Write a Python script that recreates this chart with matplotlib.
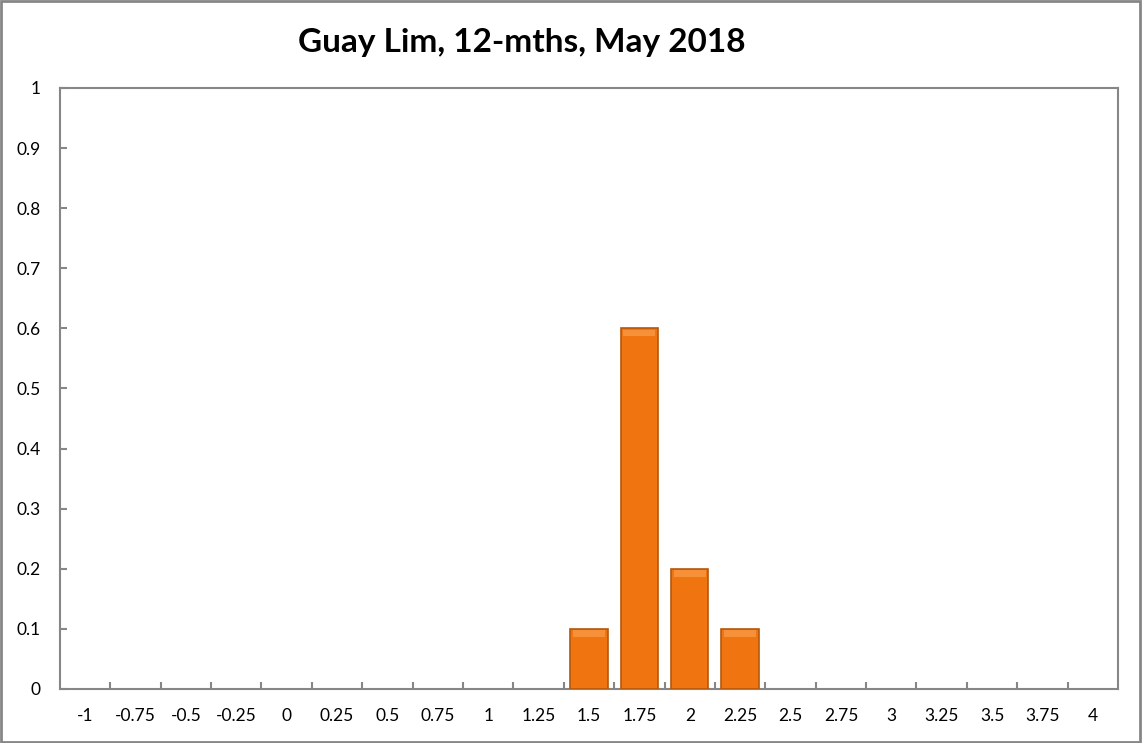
import matplotlib
matplotlib.use("Agg")
import matplotlib.pyplot as plt
from matplotlib.patches import Rectangle

# Distribution data, one value per category bin
categories = ["-1", "-0.75", "-0.5", "-0.25", "0", "0.25", "0.5", "0.75", "1", "1.25",
              "1.5", "1.75", "2", "2.25", "2.5", "2.75", "3", "3.25", "3.5", "3.75", "4"]
values = [0, 0, 0, 0, 0, 0, 0, 0, 0, 0,
          0.1, 0.6, 0.2, 0.1, 0, 0, 0, 0, 0, 0, 0]
yticks = [0, 0.1, 0.2, 0.3, 0.4, 0.5, 0.6, 0.7, 0.8, 0.9, 1]
title = "Guay Lim, 12-mths, May 2018"

plt.rcParams['font.family'] = ['Lato', 'DejaVu Sans']

gray = "#868686"
fig = plt.figure(figsize=(11.42, 7.43), dpi=100)
fig.patches.append(Rectangle((0.001, 0.001), 0.997, 0.997, transform=fig.transFigure,
                             fill=False, edgecolor=gray, linewidth=2))
ax = fig.add_axes([0.0525, 0.0727, 0.9265, 0.8089])

xs = list(range(len(categories)))
# only draw the non-empty bins so empty ones leave no outline
nz = [(x, v) for x, v in zip(xs, values) if v > 0]
bars = ax.bar([p[0] for p in nz], [p[1] for p in nz], width=0.74, color="#F07511",
              edgecolor="#B4580C", linewidth=1.2, zorder=3)

# soft bevel along the top of each bar
for b in bars:
    v = b.get_height()
    ax.add_patch(Rectangle((b.get_x() + 0.05, v - 0.013), b.get_width() - 0.10, 0.011,
                           color="#F6913A", linewidth=0, zorder=4))

ax.set_xlim(-0.5, len(categories) - 0.5)
ax.set_ylim(0, 1)
ax.set_yticks(yticks)
ax.set_yticklabels([f"{t:g}" for t in yticks])
ax.set_xticks(xs)
ax.set_xticklabels(categories)
ax.set_xticks([x + 0.5 for x in xs[:-1]], minor=True)

ax.tick_params(axis="x", which="major", length=0, pad=14, labelsize=12.5)
ax.tick_params(axis="x", which="minor", direction="in", length=5, color=gray, width=1.5)
ax.tick_params(axis="y", direction="in", length=5, color=gray, width=1.5, pad=14, labelsize=12.5)

for s in ax.spines.values():
    s.set_color(gray)
    s.set_linewidth(1.5)

fig.text(0.457, 0.943, title, ha="center", va="center", fontsize=24, fontweight="bold")

fig.savefig("out.png", dpi=100)
